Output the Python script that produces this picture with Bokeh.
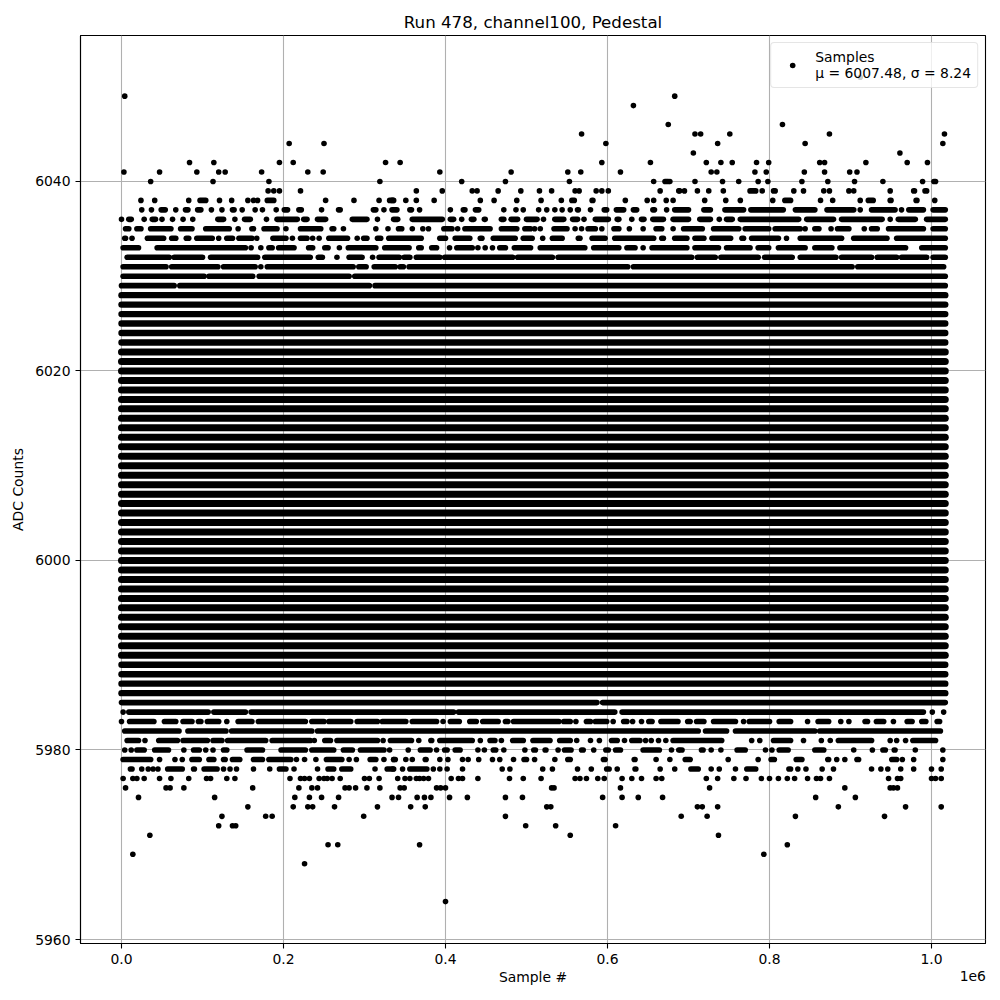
from bokeh.plotting import figure
from bokeh.models import ColumnDataSource, FixedTicker, Legend, LegendItem, LinearAxis, Range1d
from bokeh.embed import file_html
from bokeh.resources import INLINE

TITLE = "Run 478, channel100, Pedestal"
X_LABEL = "Sample #"
Y_LABEL = "ADC Counts"
X_OFFSET_TEXT = "1e6"
LEGEND_TEXT = "Samples\nμ = 6007.48, σ = 8.24"
X_TICKS = [0, 200000, 400000, 600000, 800000, 1000000]
X_TICK_LABELS = ["0.0", "0.2", "0.4", "0.6", "0.8", "1.0"]
Y_TICKS = [5960, 5980, 6000, 6020, 6040]

# Samples per ADC level, in thousands of samples.
# A number is a single sample; a pair is a stretch of overlapping samples
# read from the outer edges of the stretch.
R6051 = [912]
R6049 = [4, 683]
R6048 = [632]
R6046 = [675, 816]
R6045 = [568, 708, 715, 751, 874, 1016]
R6044 = [207, 250, 598, 736, 844, 1014]
R6043 = [706, 961]
R6042 = [84, 114, 195, 212, 326, 344, 593, (650, 656), 722, 740, 754, (781, 787), 799, 862, 868, 919, 970, 995]
R6041 = [3, 47, 93, 120, 128, 173, 230, 249, 393, 481, 551, (565, 569), 616, 728, 735, 782, 796, 843, 868, 899, (905, 911)]
R6040 = [36, 113, 182, 319, 420, 474, 553, 657, (668, 678), 677, (705, 711), 742, 762, 786, 798, 840, 872, 905, 940, 989, (1000, 1008)]
R6039 = [181, 188, 195, 221, 364, 396, 433, 439, 465, 493, 516, 531, 560, 565, 586, 593, 601, 665, 688, 689, 695, 711, (722, 728), 743, (773, 786), 791, (802, 810), 830, 842, 867, 874, 898, 904, 949, (975, 982), (989, 997)]
R6038 = [24, 41, 83, (94, 107), 121, 136, 156, 163, 168, (177, 191), 252, 287, 318, (328, 339), (331, 338), 351, 364, 386, 443, 460, 488, 518, 543, (553, 562), (578, 585), 622, 649, 657, (670, 675), 681, 720, 746, 764, 804, (816, 829), 863, 878, 912, (919, 931), (946, 953), (978, 985), 1004]
R6037 = [25, 37, (46, 57), 67, (76, 85), (91, 101), 111, 124, (134, 142), 149, 165, 174, 191, (198, 208), (216, 225), 247, (265, 273), (308, 317), 324, (331, 343), (353, 361), 368, 406, (419, 427), (434, 444), 472, (484, 490), 496, 515, 525, 535, 544, 554, (560, 567), (576, 582), (593, 602), (608, 623), (629, 639), (653, 661), 673, (680, 703), (716, 730), (742, 771), (774, 820), (829, 859), (868, 907), 912, (923, 958), 963, (969, 993), (999, 1020)]
R6036 = [0, (6, 15), 28, (35, 45), 50, 63, 76, 88, (116, 129), 140, (149, 162), 179, (189, 220), (222, 232), (239, 255), (282, 306), 316, (333, 344), (356, 399), (403, 413), 420, (429, 438), (445, 452), (466, 475), (478, 492), (497, 516), 521, (532, 549), (554, 566), 571, (582, 604), (609, 617), 630, (639, 648), (653, 672), (678, 703), (711, 730), 738, (744, 757), (761, 839), (843, 882), (886, 942), 949, (956, 983), (991, 1020)]
R6035 = [(2, 12), (16, 27), (33, 64), (70, 90), (101, 136), 144, (158, 166), (173, 195), 203, (218, 249), (257, 265), 274, 314, 329, (339, 349), 359, 372, 379, (395, 411), 415, (421, 458), (466, 491), (495, 508), 510, 517, (531, 553), 560, 568, (573, 588), 593, (605, 617), 627, 644, (657, 670), 681, (691, 720), (728, 765), (767, 802), (804, 841), 844, (853, 864), 876, (881, 901), 917, (923, 936), (944, 993), (999, 1020)]
R6034 = [(1, 8), 13, (29, 55), (59, 70), (77, 86), (90, 115), (117, 123), (127, 140), (142, 164), 167, (184, 206), (208, 214), (218, 232), 236, 244, (253, 282), 291, (296, 306), (313, 323), (327, 373), (390, 403), (409, 433), (440, 448), (456, 489), (493, 510), 520, (529, 547), (561, 569), (578, 600), (606, 660), (664, 672), (680, 701), (705, 722), (726, 755), (763, 771), (775, 814), 821, (835, 892), (901, 948), (954, 1020)]
R6033 = [(-1, 24), (41, 156), 160, 172, (179, 189), (191, 216), (228, 239), (248, 258), 269, (277, 317), (322, 358), (364, 373), (380, 392), 405, (411, 436), 440, 449, 458, (464, 477), (482, 508), (514, 575), (580, 617), (621, 637), 644, (652, 701), (705, 740), (744, 779), (783, 802), (808, 847), (853, 880), (884, 971), (985, 1020)]
R6032 = [(4, 62), (62, 103), (107, 171), (174, 236), (240, 251), 266, (278, 300), 310, (315, 346), (346, 359), (361, 396), (396, 486), (486, 535), (536, 707), (708, 736), (737, 789), (791, 831), (835, 885), (886, 929), (930, 960), (960, 997), (999, 1020)]
R6031 = [(-1, 58), (59, 122), (123, 168), 172, (177, 289), (290, 305), (309, 341), (341, 351), (352, 628), (629, 905), (906, 1018)]
R6030 = [(-1, 105), (105, 165), (167, 284), (285, 1020)]
R6029 = [(-3, 68), (69, 309), (310, 1020)]
FULL_ROW = [(-3, 1020)]
R5985 = [(-3, 590), (591, 1020)]
R5984 = [2, (6, 110), (111, 156), (157, 413), (413, 612), (615, 993), 1001, 1015]
R5983 = [0, (7, 43), (50, 70), (73, 90), (92, 101), (103, 123), 130, (141, 164), (166, 230), (232, 253), (253, 286), (288, 319), (319, 354), (356, 392), 397, (403, 420), (427, 441), (443, 468), (471, 480), (481, 543), (543, 557), 561, (571, 582), (582, 602), 607, (617, 627), 631, 642, (648, 658), (663, 690), (696, 705), (707, 722), (728, 761), 768, (772, 803), (809, 829), 847, (857, 876), 888, 898, (915, 924), (929, 944), 953, (967, 979), (985, 996), (1004, 1013)]
R5982 = [(1, 74), (79, 132), (133, 238), (239, 715), (718, 750), (755, 859), (859, 1014)]
R5981 = [(4, 24), 29, (43, 72), (73, 109), (110, 127), (128, 181), (183, 236), 238, (248, 261), (263, 319), 323, (329, 361), 367, (379, 386), (390, 436), 443, (452, 464), 469, (480, 499), (505, 532), (538, 557), 562, 579, 590, (602, 615), 621, (627, 643), 647, 654, 663, 672, (678, 744), 778, 788, (802, 829), 842, 864, 875, (882, 929), 949, 957, 968, (974, 1008)]
R5980 = [4, 12, (16, 31), (38, 61), 77, (86, 99), 104, 113, (123, 133), (152, 177), (194, 230), (232, 265), (271, 288), (292, 327), 331, 354, (366, 384), 389, (396, 405), (409, 421), 440, 448, (456, 465), 472, 498, (506, 514), (520, 527), 539, (544, 558), (565, 573), 583, (595, 604), (607, 619), (641, 667), 679, 688, (687, 695), (713, 721), 728, 740, (757, 773), 795, 803, (809, 826), (853, 870), 904, 927, (937, 946), (951, 958), (977, 983), (1011, 1017)]
R5979 = [(-1, 39), 47, 66, 75, (84, 99), (105, 117), (123, 131), (134, 149), (160, 177), (179, 212), 216, 226, 240, (250, 275), 281, 290, (304, 317), 324, 336, (333, 341), 351, 359, (372, 379), 393, 403, 421, 428, 441, 458, 467, 484, (494, 503), 510, 535, (548, 557), (592, 600), (630, 637), 660, 677, (693, 705), 749, 786, (799, 809), (830, 843), (869, 876), 883, 893, (905, 913), (948, 960), 964, (975, 981), 1014]
R5978 = [(8, 16), 25, 33, 39, 45, (54, 78), (86, 93), (99, 121), 126, 134, 142, 163, 183, (192, 206), 213, 242, (252, 265), (269, 286), 313, (325, 339), 335, 347, (353, 380), 385, 393, (399, 405), 421, 470, (477, 482), 520, 532, 563, 580, (596, 605), 612, (631, 638), 665, 683, (700, 715), 728, 738, 758, (769, 786), (821, 829), 835, 845, 865, 879, 926, (935, 940), 946, 962, 978, 1000, 1012]
R5977 = [2, 14, 19, 28, 47, 61, 83, 105, 110, 130, 140, 208, 221, 226, 232, 244, 250, 254, 260, 270, 300, 306, 318, 341, 350, 356, 364, 368, 373, 379, 407, 416, 421, 440, 479, 496, 518, 560, 566, 574, 588, 596, 618, 630, 642, 660, 667, 722, 736, 756, 771, 790, 800, 811, 822, 831, 847, 858, 863, 874, 947, 958, 962, 1000, 1005, 1012]
R5976 = [5, 55, 60, 77, 162, 219, 235, 242, 276, 281, 289, 303, 319, 344, 349, 389, 394, 400, 531, 534, 616, 726, 893, 949, 953, 958]
R5975 = [21, 115, 214, 232, 247, 268, 334, 342, 365, 374, 382, 405, 427, 474, 495, 594, 618, 638, 668, 857, 906]
R5974 = [156, 212, 230, 236, 263, 316, 357, 375, 525, 530, 711, 717, 736, 885, 968, 1012]
R5973 = [124, 178, 186, 299, 474, 691, 723, 832, 942]
R5972 = [120, 137, 141, 499, 536, 610]
R5971 = [35, 554, 737]
R5970 = [255, 267, 368, 822]
R5969 = [14, 793]
R5968 = [226]
R5964 = [400]

ROWS = [(6051, R6051), (6049, R6049), (6048, R6048), (6046, R6046), (6045, R6045),
        (6044, R6044), (6043, R6043), (6042, R6042), (6041, R6041), (6040, R6040),
        (6039, R6039), (6038, R6038), (6037, R6037), (6036, R6036), (6035, R6035),
        (6034, R6034), (6033, R6033), (6032, R6032), (6031, R6031), (6030, R6030),
        (6029, R6029), (5985, R5985), (5984, R5984), (5983, R5983), (5982, R5982),
        (5981, R5981), (5980, R5980), (5979, R5979), (5978, R5978), (5977, R5977),
        (5976, R5976), (5975, R5975), (5974, R5974), (5973, R5973), (5972, R5972),
        (5971, R5971), (5970, R5970), (5969, R5969), (5968, R5968), (5964, R5964)]
FULL_LEVELS = [5986, 5987, 5988, 5989, 5990, 5991, 5992, 5993, 5994, 5995, 5996, 5997, 5998, 5999,
               6000, 6001, 6002, 6003, 6004, 6005, 6006, 6007, 6008, 6009, 6010, 6011, 6012, 6013,
               6014, 6015, 6016, 6017, 6018, 6019, 6020, 6021, 6022, 6023, 6024, 6025, 6026, 6027, 6028]
ROWS += [(level, FULL_ROW) for level in FULL_LEVELS]
# Rows so densely sampled that the stacked dots look thicker than a single dot.
THICK_LOW, THICK_HIGH = 5990, 6022

EDGE = 3  # half a dot, in thousands of samples
dot_x, dot_y, x0, x1, ys, widths = [], [], [], [], [], []
for level, items in ROWS:
    for item in items:
        if isinstance(item, tuple):
            a, b = item[0] + EDGE, item[1] - EDGE
            if a >= b:
                dot_x.append((a + b) / 2 * 1000)
                dot_y.append(level)
            else:
                x0.append(a * 1000)
                x1.append(b * 1000)
                ys.append(level)
                if THICK_LOW <= level <= THICK_HIGH:
                    widths.append(7)
                elif level in FULL_LEVELS:
                    widths.append(6.4)
                else:
                    widths.append(5.6)
        else:
            dot_x.append(item * 1000)
            dot_y.append(level)

p = figure(frame_width=905, frame_height=908, output_backend="svg", toolbar_location=None,
           x_range=Range1d(-50617, 1066667), y_range=Range1d(5959.58, 6055.4),
           title=TITLE, min_border_left=80, min_border_right=7, min_border_top=35, min_border_bottom=49)

p.title.align = "center"
p.title.text_font = "DejaVu Sans"
p.title.text_font_size = "16.67px"
p.title.text_font_style = "normal"
p.title.text_color = "black"
p.title.standoff = 8

p.outline_line_color = "black"
p.outline_line_width = 1.1
p.background_fill_color = "white"
p.border_fill_color = "white"

for ax in (p.xaxis[0], p.yaxis[0]):
    ax.axis_line_color = "black"
    ax.axis_line_width = 1.1
    ax.major_tick_line_color = "black"
    ax.major_tick_line_width = 1.1
    ax.major_tick_out = 5
    ax.major_tick_in = 0
    ax.minor_tick_line_color = None
    ax.major_label_text_font = "DejaVu Sans"
    ax.major_label_text_font_size = "13.9px"
    ax.major_label_text_color = "black"
    ax.axis_label_text_font = "DejaVu Sans"
    ax.axis_label_text_font_size = "13.9px"
    ax.axis_label_text_font_style = "normal"
    ax.axis_label_text_color = "black"

p.xaxis[0].ticker = FixedTicker(ticks=X_TICKS)
p.xaxis[0].major_label_overrides = dict(zip(X_TICKS, X_TICK_LABELS))
p.yaxis[0].ticker = FixedTicker(ticks=Y_TICKS)
p.yaxis[0].axis_label = Y_LABEL
p.yaxis[0].axis_label_standoff = 6
p.yaxis[0].major_label_orientation = "horizontal"

# Second, bare axis under the first: it carries the axis title and, on the same
# row at the right-hand end, matplotlib's offset text.
OFFSET_TICK = 1051000
label_axis = LinearAxis(ticker=FixedTicker(ticks=[OFFSET_TICK]),
                        major_label_overrides={OFFSET_TICK: X_OFFSET_TEXT},
                        axis_label=X_LABEL, axis_label_standoff=-15,
                        axis_line_color=None, major_tick_line_color=None,
                        minor_tick_line_color=None, major_tick_out=0, major_tick_in=0,
                        major_label_standoff=4,
                        major_label_text_font="DejaVu Sans", major_label_text_font_size="13.9px",
                        major_label_text_color="black",
                        axis_label_text_font="DejaVu Sans", axis_label_text_font_size="13.9px",
                        axis_label_text_font_style="normal", axis_label_text_color="black")
p.add_layout(label_axis, "below")

for g in (p.xgrid[0], p.ygrid[0]):
    g.grid_line_color = "#b0b0b0"
    g.grid_line_width = 1.1

p.segment(x0="x0", y0="y", x1="x1", y1="y",
          source=ColumnDataSource(dict(x0=x0, x1=x1, y=ys, w=widths)),
          line_color="black", line_width="w", line_cap="round")
dots = p.scatter("x", "y", source=ColumnDataSource(dict(x=dot_x, y=dot_y)),
                 size=5.6, marker="circle", fill_color="black", line_color=None)

legend = Legend(items=[LegendItem(label=LEGEND_TEXT, renderers=[dots])],
                location="top_right", margin=7, padding=6, spacing=0,
                label_text_font="DejaVu Sans", label_text_font_size="13.9px",
                label_text_line_height=1.3,
                label_text_color="black", glyph_width=30, glyph_height=14, label_standoff=8,
                background_fill_color="white", background_fill_alpha=0.8,
                border_line_color="#cccccc", border_line_width=1.1)
if "border_radius" in Legend.properties():
    legend.border_radius = 4
p.add_layout(legend, "center")

open("out.html", "w").write(file_html(p, INLINE))
